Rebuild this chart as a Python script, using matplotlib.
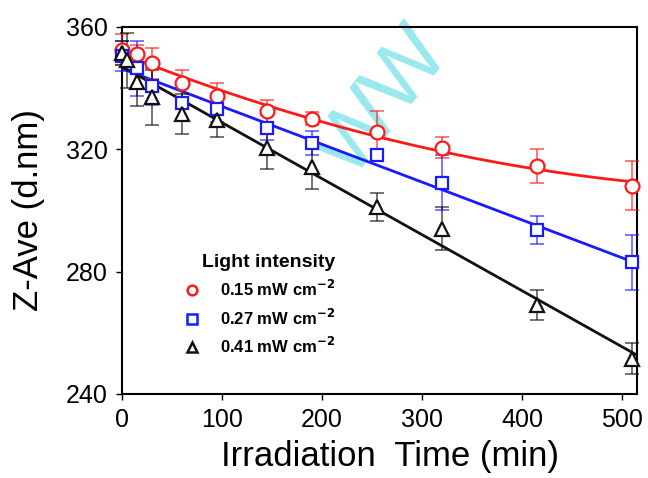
import numpy as np
import matplotlib
matplotlib.use("Agg")
import matplotlib.pyplot as plt
from matplotlib.lines import Line2D

plt.rcParams['font.family'] = ['Liberation Sans', 'DejaVu Sans']

# Data
t_red = [0, 15, 30, 60, 95, 145, 190, 255, 320, 415, 510]
y_red = [352.5, 351, 348, 341.5, 337.5, 332.5, 330, 325.5, 320.5, 314.5, 308]
e_red = [5, 3, 5, 4.5, 4, 3.5, 2, 7, 3.5, 5.5, 8]

t_blue = [0, 15, 30, 60, 95, 145, 190, 255, 320, 415, 510]
y_blue = [350.5, 346.5, 340.5, 335, 333, 327, 322, 318, 309, 293.5, 283]
e_blue = [5, 9, 6, 5, 4, 4, 4, 2, 9, 4.5, 9]

t_black = [0, 5, 15, 30, 60, 95, 145, 190, 255, 320, 415, 510]
y_black = [351.5, 349, 342, 337, 331.5, 329.5, 320.5, 314, 301, 294, 269, 251.5]
e_black = [4, 9, 8, 9, 6.5, 5.5, 7, 7, 4.5, 7, 5, 5]

labels = ['0.15 mW cm$^{\\mathbf{-2}}$', '0.27 mW cm$^{\\mathbf{-2}}$', '0.41 mW cm$^{\\mathbf{-2}}$']
xticks = [0, 100, 200, 300, 400, 500]
yticks = [240, 280, 320, 360]

fig = plt.figure(figsize=(6.48, 4.78), dpi=100)
ax = fig.add_axes([0.188, 0.176, 0.795, 0.768])

# watermark
ax.text(262, 335, 'WW', color='#8ee6ec', fontsize=62, rotation=52,
        ha='center', va='center', alpha=0.9, zorder=0)

series = [
    (t_red, y_red, e_red, '#ff1a1a', 'o', 10, 2),
    (t_blue, y_blue, e_blue, '#1a1aff', 's', 9, 1),
    (t_black, y_black, e_black, '#111111', '^', 9.5, 1),
]
tt = np.linspace(0, 515, 200)
handles = []
for (t, y, e, c, m, ms, deg), lab in zip(series, labels):
    coef = np.polyfit(t, y, deg)
    ax.plot(tt, np.polyval(coef, tt), color=c, lw=2, zorder=2)
    ax.errorbar(t, y, yerr=e, fmt='none', ecolor=c, elinewidth=1.1,
                capsize=5, capthick=1.1, zorder=3, clip_on=False, alpha=0.75)
    ax.plot(t, y, linestyle='none', marker=m, ms=ms, mfc='white', mec=c,
            mew=1.6, zorder=4, clip_on=False)
    handles.append(Line2D([], [], linestyle='none', marker=m, ms=7, mfc='white',
                          mec=c, mew=1.8, label=lab))

ax.set_xlim(0, 515)
ax.set_ylim(240, 360)
ax.set_xticks(xticks)
ax.set_yticks(yticks)
ax.tick_params(direction='out', length=4, width=1, labelsize=18, pad=6)
for s in ax.spines.values():
    s.set_linewidth(1.5)
ax.set_xlabel('Irradiation  Time (min)', fontsize=25)
ax.xaxis.set_label_coords(0.52, -0.125, transform=ax.transAxes)
ax.xaxis.label.set_va('top')
ax.set_ylabel('Z-Ave (d.nm)', fontsize=25, labelpad=15)

leg = ax.legend(handles=handles, loc='upper left', bbox_to_anchor=(0.09, 0.40),
                frameon=False, title='Light intensity',
                prop={'size': 12, 'weight': 'bold'}, handletextpad=0.7,
                labelspacing=0.5, borderaxespad=0)
leg.get_title().set_fontweight('bold')
leg.get_title().set_fontsize(14)
leg._legend_box.align = 'right'

fig.savefig('out.png', dpi=100)
